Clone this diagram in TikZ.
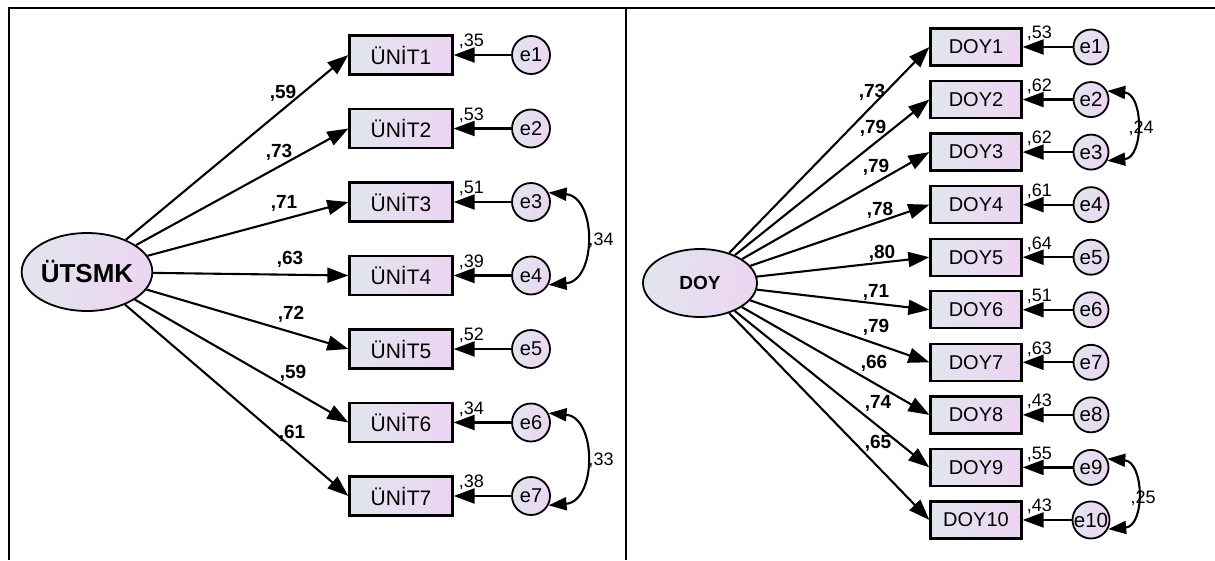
\documentclass[tikz,border=0pt]{standalone}
\usepackage{fontspec}
\setmainfont{Liberation Sans}
\usetikzlibrary{arrows.meta,shapes.geometric}
\definecolor{gA}{RGB}{226,229,238}
\definecolor{gB}{RGB}{236,213,242}
\tikzset{
  fr/.style={line width=2.6pt},
  grad/.style={left color=gA,right color=gB,shading angle=80},
  latent/.style={ellipse,draw,line width=1.8pt,grad,inner sep=0pt},
  obs/.style={rectangle,draw,line width=2.3pt,grad,minimum width=103pt,minimum height=39pt,inner sep=0pt,font=\fontsize{21}{21}\selectfont},
  obsd/.style={rectangle,draw,line width=2.3pt,grad,minimum width=91pt,minimum height=37pt,inner sep=0pt,font=\fontsize{20}{20}\selectfont},
  err/.style={circle,draw,line width=1.8pt,grad,minimum size=38pt,inner sep=0pt,font=\fontsize{20}{20}\selectfont},
  errd/.style={circle,draw,line width=1.8pt,grad,minimum size=35pt,inner sep=0pt,font=\fontsize{20.5}{20.5}\selectfont},
  load/.style={line width=2.1pt,-{Triangle[length=21pt,width=15pt]}},
  res/.style={line width=2.3pt,-{Triangle[length=21pt,width=15pt]}},
  cov/.style={line width=2.1pt,{Triangle[length=18pt,width=13pt]}-{Triangle[length=18pt,width=13pt]}},
  lw/.style={font=\bfseries\fontsize{19}{19}\selectfont,inner sep=0pt},
  vr/.style={font=\fontsize{18}{18}\selectfont,inner sep=0pt,anchor=south west},
  cl/.style={font=\fontsize{18}{18}\selectfont,inner sep=0pt},
}
\begin{document}
\begin{tikzpicture}[x=1pt,y=-1pt]
\useasboundingbox (0,0) rectangle (1215,560);
% frame
\draw[fr] (8,8) -- (1215,8);
\draw[fr] (9,8) -- (9,560);
\draw[fr] (626,8) -- (626,560);

% ---------- left panel ----------
\node[latent,minimum width=130pt,minimum height=78pt,font=\bfseries\fontsize{26}{26}\selectfont] (L) at (87,272) {ÜTSMK};
\foreach \i/\v in {1/35,2/53,3/51,4/39,5/52,6/34,7/38}{
  \pgfmathsetmacro{\yy}{55+73.5*(\i-1)}
  \node[obs] (u\i) at (401,\yy) {ÜNİT\i};
  \node[err] (ue\i) at (531,\yy) {e\i};
  \draw[res] (ue\i) -- (u\i);
  \node[vr] (uv\i) at ([xshift=5pt,yshift=-15pt]u\i.north east) {,\v};
  \draw[load] (L) -- (u\i.west);
}
\node[lw] (ul1) at (283,93) {,59};
\node[lw] (ul2) at (279,152) {,73};
\node[lw] (ul3) at (284,203) {,71};
\node[lw] (ul4) at (290,259) {,63};
\node[lw] (ul5) at (291,314) {,72};
\node[lw] (ul6) at (293,373) {,59};
\node[lw] (ul7) at (292,433) {,61};
\draw[cov] (ue3.28) to[out=-5,in=5,looseness=1.35] (ue4.-28);
\node[cl] (uc34) at (601,240) {,34};
\draw[cov] (ue6.28) to[out=-5,in=5,looseness=1.35] (ue7.-28);
\node[cl] (uc67) at (601,460) {,33};

% ---------- right panel ----------
\node[latent,minimum width=114pt,minimum height=68pt,font=\bfseries\fontsize{19}{19}\selectfont] (D) at (700,283) {DOY};
\foreach \i/\v in {1/53,2/62,3/62,4/61,5/64,6/51,7/63,8/43,9/55,10/43}{
  \pgfmathsetmacro{\yy}{47+52.55*(\i-1)}
  \node[obsd] (d\i) at (976,\yy) {DOY\i};
  \node[errd] (de\i) at (1091,\yy) {e\i};
  \draw[res] (de\i) -- (d\i);
  \node[vr] (dv\i) at ([xshift=4pt,yshift=-14pt]d\i.north east) {,\v};
  \draw[load] (D) -- (d\i.west);
}
\node[lw] (dl1) at (872,92) {,73};
\node[lw] (dl2) at (873,128) {,79};
\node[lw] (dl3) at (876,167) {,79};
\node[lw] (dl4) at (880,210) {,78};
\node[lw] (dl5) at (882,253) {,80};
\node[lw] (dl6) at (876,292) {,71};
\node[lw] (dl7) at (876,327) {,79};
\node[lw] (dl8) at (874,363) {,66};
\node[lw] (dl9) at (878,403) {,74};
\node[lw] (dl10) at (878,443) {,65};
\draw[cov] (de2.28) to[out=-5,in=5,looseness=1.35] (de3.-28);
\node[cl] (dc23) at (1141,128) {,24};
\draw[cov] (de9.28) to[out=-5,in=5,looseness=1.35] (de10.-28);
\node[cl] (dc910) at (1143,498) {,25};
\end{tikzpicture}
\end{document}
